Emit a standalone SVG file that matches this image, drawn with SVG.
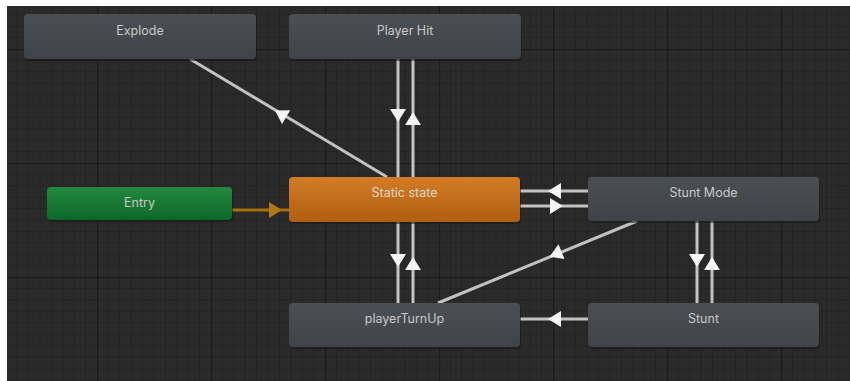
<svg xmlns="http://www.w3.org/2000/svg" xmlns:xlink="http://www.w3.org/1999/xlink" width="850" height="381" viewBox="0 0 850 381">
  <defs>
    <style>
      .label { font-family: Inter, "Noto Sans", "DejaVu Sans", sans-serif; font-size: 12.5px; fill: #c9c9c9; text-anchor: middle; }
      .state { fill: url(#gGray); }
      .shadow { fill: #151515; opacity: 0.55; }
      .wire { stroke: #c2c2c2; stroke-width: 3; fill: none; }
      .head { fill: #f4f4f4; }
    </style>
    <linearGradient id="gGray" x1="0" y1="0" x2="0" y2="1">
      <stop offset="0" stop-color="#4b4e53"/>
      <stop offset="1" stop-color="#404347"/>
    </linearGradient>
    <linearGradient id="gOrange" x1="0" y1="0" x2="0" y2="1">
      <stop offset="0" stop-color="#d27c26"/>
      <stop offset="1" stop-color="#b05f10"/>
    </linearGradient>
    <linearGradient id="gGreen" x1="0" y1="0" x2="0" y2="1">
      <stop offset="0" stop-color="#238a3d"/>
      <stop offset="1" stop-color="#0d682a"/>
    </linearGradient>
    <pattern id="grid" patternUnits="userSpaceOnUse" x="97" y="49" width="114" height="114">
      <rect width="114" height="114" fill="#2a2a2a"/>
      <path d="M11.4,0V114M22.8,0V114M34.2,0V114M45.6,0V114M57,0V114M68.4,0V114M79.8,0V114M91.2,0V114M102.6,0V114
               M0,11.4H114M0,22.8H114M0,34.2H114M0,45.6H114M0,57H114M0,68.4H114M0,79.8H114M0,91.2H114M0,102.6H114"
            stroke="#232323" stroke-width="1" fill="none"/>
      <path d="M0.5,0V114M0,0.5H114" stroke="#1b1b1b" stroke-width="1.5" fill="none"/>
    </pattern>
    <path id="tri" d="M7,0 L-6,-8 L-6,8 Z"/>
  </defs>

  <!-- canvas -->
  <rect width="850" height="381" fill="#ffffff"/>
  <rect x="7" y="6" width="843" height="375" fill="url(#grid)"/>

  <!-- transitions -->
  <g id="connectors">
    <line class="wire" x1="190" y1="59" x2="387" y2="177"/>
    <line class="wire" x1="398" y1="59" x2="398" y2="177"/>
    <line class="wire" x1="413" y1="59" x2="413" y2="177"/>
    <line class="wire" x1="398" y1="222" x2="398" y2="303"/>
    <line class="wire" x1="413" y1="222" x2="413" y2="303"/>
    <line class="wire" x1="520" y1="191" x2="588" y2="191"/>
    <line class="wire" x1="520" y1="206" x2="588" y2="206"/>
    <line class="wire" x1="637" y1="221" x2="438" y2="303"/>
    <line class="wire" x1="697" y1="221" x2="697" y2="303"/>
    <line class="wire" x1="712" y1="221" x2="712" y2="303"/>
    <line class="wire" x1="520" y1="319" x2="588" y2="319"/>
    <line x1="232" y1="210" x2="289" y2="210" stroke="#a8700c" stroke-width="3"/>

    <use href="#tri" class="head" transform="translate(281,114) rotate(210.9)"/>
    <use href="#tri" class="head" transform="translate(398,115) rotate(90)"/>
    <use href="#tri" class="head" transform="translate(413,119) rotate(-90)"/>
    <use href="#tri" class="head" transform="translate(398,260) rotate(90)"/>
    <use href="#tri" class="head" transform="translate(413,264) rotate(-90)"/>
    <use href="#tri" class="head" transform="translate(555,191) rotate(180)"/>
    <use href="#tri" class="head" transform="translate(556,206)"/>
    <use href="#tri" class="head" transform="translate(556,254) rotate(157.6)"/>
    <use href="#tri" class="head" transform="translate(697,260) rotate(90)"/>
    <use href="#tri" class="head" transform="translate(712,264) rotate(-90)"/>
    <use href="#tri" class="head" transform="translate(555,319) rotate(180)"/>
    <use href="#tri" fill="#b27810" transform="translate(275,210)"/>
  </g>

  <!-- states -->
  <g id="explode">
    <rect class="shadow" x="25" y="16" width="232" height="45" rx="4"/>
    <rect class="state" x="24" y="14" width="232" height="45" rx="4"/>
    <text class="label" x="140" y="35">Explode</text>
  </g>
  <g id="player-hit">
    <rect class="shadow" x="290" y="16" width="232" height="45" rx="4"/>
    <rect class="state" x="289" y="14" width="232" height="45" rx="4"/>
    <text class="label" x="405" y="35">Player Hit</text>
  </g>
  <g id="entry">
    <rect class="shadow" x="48" y="189" width="185" height="33" rx="4"/>
    <rect x="47" y="187" width="185" height="33" rx="4" fill="url(#gGreen)"/>
    <text class="label" x="139.5" y="207">Entry</text>
  </g>
  <g id="static-state">
    <rect class="shadow" x="290" y="179" width="231" height="45" rx="4"/>
    <rect x="289" y="177" width="231" height="45" rx="4" fill="url(#gOrange)"/>
    <text class="label" x="404.5" y="197" fill="#ecd9c4" style="fill:#ecd9c4">Static state</text>
  </g>
  <g id="stunt-mode">
    <rect class="shadow" x="589" y="179" width="231" height="44" rx="4"/>
    <rect class="state" x="588" y="177" width="231" height="44" rx="4"/>
    <text class="label" x="703.5" y="197">Stunt Mode</text>
  </g>
  <g id="player-turn-up">
    <rect class="shadow" x="290" y="305" width="231" height="44" rx="4"/>
    <rect class="state" x="289" y="303" width="231" height="44" rx="4"/>
    <text class="label" x="404.5" y="323">playerTurnUp</text>
  </g>
  <g id="stunt">
    <rect class="shadow" x="589" y="305" width="231" height="44" rx="4"/>
    <rect class="state" x="588" y="303" width="231" height="44" rx="4"/>
    <text class="label" x="703.5" y="323">Stunt</text>
  </g>
</svg>
